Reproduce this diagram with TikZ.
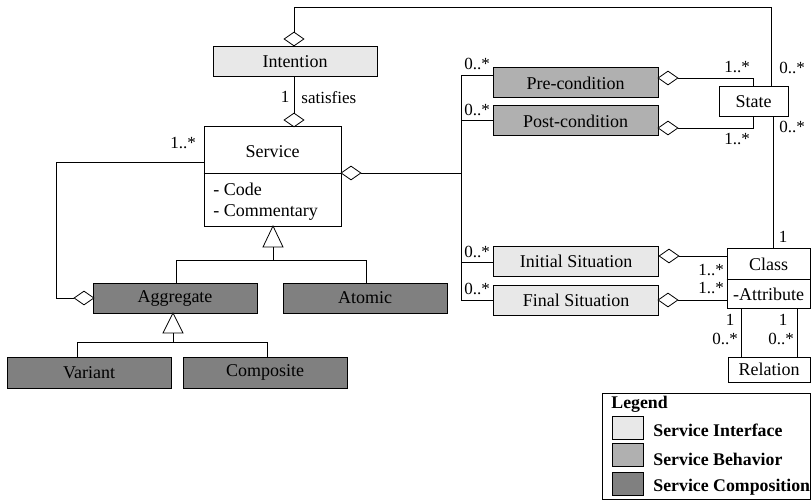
\documentclass[tikz,border=0pt]{standalone}
\usepackage{fontspec}
\setmainfont{Liberation Serif}
\usetikzlibrary{shapes.geometric}
\definecolor{lite}{HTML}{E8E8E8}
\definecolor{mid}{HTML}{B0B0B0}
\definecolor{dark}{HTML}{808080}
\begin{document}
\begin{tikzpicture}[x=1pt,y=-1pt, line width=0.8pt,
  box/.style={draw, line width=1pt, inner sep=0, minimum height=30pt, font=\fontsize{18}{20}\selectfont},
  wide/.style={box, minimum width=165pt},
  txt/.style={inner sep=0, font=\fontsize{18}{20}\selectfont},
  mult/.style={inner sep=0, font=\fontsize{17}{19}\selectfont},
  leg/.style={inner sep=0, anchor=west, font=\fontsize{17.8}{20}\selectfont\bfseries},
  swatch/.style={draw, line width=0.8pt, inner sep=0, minimum width=31pt, minimum height=23pt},
  agg/.style={diamond, draw, fill=white, inner sep=0, minimum width=20pt, minimum height=14pt}]
\useasboundingbox (0,0) rectangle (811,500);

% ---- boxes
\node[box, fill=lite, minimum width=164pt] (intention) at (295,62) {Intention};
\node[box, minimum width=137pt, minimum height=99pt] (service) at (272.5,176.5) {};
\draw[line width=1pt] (service.west |- 0,173) -- (service.east |- 0,173);
\node[txt] (servicename) at (272.5,152) {Service};
\node[txt, anchor=west] (code) at (213,189) {- Code};
\node[txt, anchor=west] (comm) at (213,212) {- Commentary};

\node[wide, fill=mid] (pre) at (575.5,83) {Pre-condition};
\node[wide, fill=mid] (post) at (575.5,121) {Post-condition};
\node[wide, fill=lite] (init) at (576,261) {Initial Situation};
\node[wide, fill=lite] (final) at (576,300) {Final Situation};

\node[box, minimum width=69pt] (state) at (753.5,102) {State};

\node[box, minimum width=83pt, minimum height=60pt] (class) at (768.5,278) {};
\draw[line width=1pt] (class.west |- 0,279) -- (class.east |- 0,279);
\node[txt] (classname) at (768.5,264) {Class};
\node[txt] (attr) at (768.5,294) {-Attribute};
\node[box, minimum width=82pt, minimum height=25pt] (relation) at (769,369.5) {Relation};

\node[box, fill=dark, minimum width=164pt] (aggregate) at (175,298) {Aggregate};
\node[box, fill=dark, minimum width=164pt] (atomic) at (365,298) {Atomic};
\node[box, fill=dark, minimum width=164pt, minimum height=31pt] (variant) at (89,372.5) {Variant};
\node[box, fill=dark, minimum width=164pt, minimum height=31pt] (composite) at (265,372.5) {Composite};

% ---- diamonds
\node[agg] (d1) at (294,39) {};
\node[agg] (d2) at (294,120) {};
\node[agg] (d3) at (351,173) {};
\node[agg] (dpre) at (668,78) {};
\node[agg] (dpost) at (668,128) {};
\node[agg] (dinit) at (669,256) {};
\node[agg] (dfinal) at (668,300) {};
\node[agg] (dagg) at (84,298) {};

% ---- connectors
\coordinate (stTop) at (771,87);
\draw (d1.north) |- (stTop |- 0,7) -- (stTop);
\draw (intention.south -| d2) -- (d2.north);
\coordinate (hub) at (461,173);
\draw (d3.east) -- (hub);
\draw (pre.west |- 0,75) -| (461,75) -- (461,300) -- (final.west |- 0,300);
\draw (post.west |- 0,120) -- (461,120);
\draw (init.west |- 0,262) -- (461,262);
\draw (dpre.east) -| (state.north -| 753,0);
\draw (dpost.east) -| (state.south -| 753,0);
\draw (state.south -| 773,0) -- (class.north -| 773,0);
\draw (dinit.east) -- (class.west |- 0,256);
\draw (dfinal.east) -- (class.west |- 0,300);
\draw (class.south -| 741,0) -- (relation.north -| 741,0);
\draw (class.south -| 797,0) -- (relation.north -| 797,0);

% self aggregation of Aggregate
\draw (dagg.west) -| (56,162) -- (service.west |- 0,162);

% generalizations
\coordinate (g1) at (273,226);
\draw[fill=white] (g1) -- ++(10,21) -- ++(-20,0) -- cycle;
\draw (273,247) -- (273,260);
\draw (aggregate.north -| 176,0) |- (366,260) -- (atomic.north -| 366,0);
\coordinate (g2) at (173,313);
\draw[fill=white] (g2) -- ++(10,20) -- ++(-20,0) -- cycle;
\draw (173,333) -- (173,342);
\draw (variant.north -| 77,0) |- (267,342) -- (composite.north -| 267,0);

% ---- labels
\node[mult] (l1) at (285,97) {1};
\node[mult, anchor=west] (lsat) at (301,98) {satisfies};
\node[mult] (lagg) at (183,143) {1..*};
\node[mult] (lpre) at (477,64) {0..*};
\node[mult] (lpost) at (477,110) {0..*};
\node[mult] (linit) at (477,252) {0..*};
\node[mult] (lfinal) at (477,289) {0..*};
\node[mult] (lspre) at (737,67) {1..*};
\node[mult] (lspost) at (737,139) {1..*};
\node[mult] (lstop) at (792,68) {0..*};
\node[mult] (lsbot) at (792,127) {0..*};
\node[mult] (lc1) at (783,237) {1};
\node[mult] (lci) at (711,270) {1..*};
\node[mult] (lcf) at (711,288) {1..*};
\node[mult] (lr1) at (730,320) {1};
\node[mult] (lr2) at (725,339) {0..*};
\node[mult] (lr3) at (783,320) {1};
\node[mult] (lr4) at (781,339) {0..*};

% ---- legend
\node[draw, line width=1pt, inner sep=0, minimum width=208pt, minimum height=106pt] (legend) at (706,446) {};
\node[leg] (legtitle) at (611,404) {Legend};
\node[swatch, fill=lite] (s1) at (627.5,427.5) {};
\node[swatch, fill=mid] (s2) at (627.5,455) {};
\node[swatch, fill=dark] (s3) at (627.5,484) {};
\node[leg] (t1) at (653,430) {Service Interface};
\node[leg] (t2) at (653,459) {Service Behavior};
\node[leg] (t3) at (653,487) {Service Composition};
\end{tikzpicture}
\end{document}
